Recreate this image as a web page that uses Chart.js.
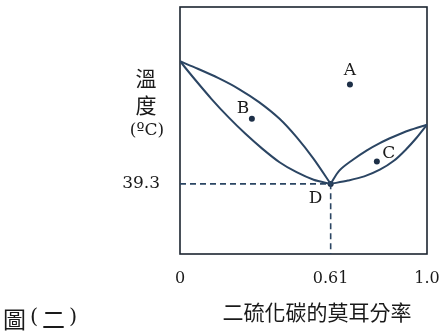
<!DOCTYPE html>
<html lang="zh-Hant">
  <head>
    <meta charset="UTF-8">
    <title>二硫化碳-丙酮 沸點圖</title>
    <script src="https://cdn.jsdelivr.net/npm/chart.js"></script>
    <style>
      body {
        margin: 0;
        background: #ffffff;
      }

      .chart-container {
        width: 447px;
        height: 336px;
      }
    </style>
  </head>
  <body>
    <div class="chart-container">
      <canvas id="phaseChart" width="447" height="336"></canvas>
    </div>
    <script>
      // x = mole fraction of CS2, y = temperature (ºC)
      const leftUpperX = [0, 0.072, 0.154, 0.237, 0.320, 0.403, 0.472, 0.541, 0.61];
      const leftUpperT = [54.0, 53.1, 52.0, 50.7, 49.1, 47.1, 44.9, 42.3, 39.3];
      const leftLowerX = [0, 0.058, 0.127, 0.196, 0.265, 0.334, 0.403, 0.472, 0.541, 0.61];
      const leftLowerT = [54.0, 51.9, 49.5, 47.3, 45.3, 43.5, 41.9, 40.7, 39.8, 39.3];
      const rightUpperX = [0.61, 0.645, 0.700, 0.755, 0.809, 0.864, 0.926, 1.0];
      const rightUpperT = [39.3, 40.9, 42.2, 43.3, 44.2, 44.95, 45.7, 46.4];
      const rightLowerX = [0.61, 0.680, 0.746, 0.809, 0.867, 0.914, 0.957, 1.0];
      const rightLowerT = [39.3, 39.7, 40.2, 41.0, 42.1, 43.4, 44.8, 46.4];

      // dashed guide to the azeotrope D
      const guideX = [0, 0.61, 0.61];
      const guideT = [39.3, 39.3, 30.9];

      // labelled points
      const pointNames = ['A', 'B', 'C', 'D'];
      const pointX = [0.688, 0.291, 0.797, 0.61];
      const pointT = [51.2, 47.1, 42.0, 39.3];

      // axis range and ticks
      const xMin = 0, xMax = 1.0;
      const tMin = 30.9, tMax = 60.5;
      const xTicks = [0, 0.61, 1.0];
      const xTickLabels = ['0', '0.61', '1.0'];
      const yTicks = [39.3];
      const yTickLabels = ['39.3'];

      const lineColor = '#2b4563';
      const serif = '"DejaVu Serif", "Liberation Serif", serif';
      const cjk = '"Noto Sans CJK TC", "Noto Sans CJK SC", sans-serif';

      function toPoints(xs, ys) {
        return xs.map((x, i) => ({ x: x, y: ys[i] }));
      }

      function curve(xs, ys) {
        return {
          data: toPoints(xs, ys),
          showLine: true,
          borderColor: lineColor,
          borderWidth: 2,
          pointRadius: 0,
          tension: 0.3,
          fill: false
        };
      }

      // Frame around the plot area (all four sides)
      const framePlugin = {
        id: 'frame',
        beforeDatasetsDraw(chart) {
          const a = chart.chartArea;
          const ctx = chart.ctx;
          ctx.save();
          ctx.strokeStyle = '#1c2530';
          ctx.lineWidth = 1.6;
          ctx.strokeRect(a.left, a.top, a.right - a.left, a.bottom - a.top);
          ctx.restore();
        }
      };

      // Text: point names, axis titles, figure caption
      const textPlugin = {
        id: 'texts',
        afterDraw(chart) {
          const ctx = chart.ctx;
          const xs = chart.scales.x;
          const ys = chart.scales.y;
          ctx.save();
          ctx.fillStyle = '#1a1a1a';
          ctx.textAlign = 'center';
          ctx.textBaseline = 'middle';

          // names next to the points
          const offsets = { A: [0, -14], B: [-9, -10], C: [12, -8], D: [-15, 15] };
          ctx.font = '17px ' + serif;
          pointNames.forEach((name, i) => {
            const px = xs.getPixelForValue(pointX[i]);
            const py = ys.getPixelForValue(pointT[i]);
            const off = offsets[name];
            ctx.fillText(name, px + off[0], py + off[1]);
          });

          // y axis title, stacked
          ctx.font = '21px ' + cjk;
          ctx.fillText('溫', 146, 78);
          ctx.fillText('度', 146, 105);
          ctx.font = '17px ' + serif;
          ctx.fillText('(ºC)', 147, 131);

          // x axis title
          ctx.font = '21px ' + cjk;
          ctx.fillText('二硫化碳的莫耳分率', 317, 312);

          // caption
          ctx.textAlign = 'left';
          ctx.font = '23px ' + cjk;
          ctx.fillText('圖', 3, 319);
          ctx.fillText('二', 42, 319);
          ctx.font = '21px ' + serif;
          ctx.fillText('(', 30, 318);
          ctx.fillText(')', 69, 318);
          ctx.restore();
        }
      };

      const ctx = document.getElementById('phaseChart').getContext('2d');
      const phaseChart = new Chart(ctx, {
        type: 'scatter',
        data: {
          datasets: [
            curve(leftUpperX, leftUpperT),
            curve(leftLowerX, leftLowerT),
            curve(rightUpperX, rightUpperT),
            curve(rightLowerX, rightLowerT),
            {
              data: toPoints(guideX, guideT),
              showLine: true,
              borderColor: lineColor,
              borderWidth: 1.6,
              borderDash: [6, 4],
              pointRadius: 0,
              tension: 0
            },
            {
              data: toPoints(pointX, pointT),
              showLine: false,
              pointRadius: 3,
              pointBackgroundColor: '#1d2f47',
              pointBorderWidth: 0
            }
          ]
        },
        options: {
          responsive: false,
          animation: false,
          layout: {
            padding: { left: 0, right: 20, top: 7, bottom: 0 }
          },
          plugins: {
            legend: { display: false },
            tooltip: { enabled: false }
          },
          scales: {
            x: {
              type: 'linear',
              min: xMin,
              max: xMax,
              afterBuildTicks: (scale) => {
                scale.ticks = xTicks.map(v => ({ value: v }));
              },
              afterFit: (scale) => {
                scale.height = 82;
                scale.paddingLeft = 0;
                scale.paddingRight = 0;
              },
              grid: { display: false },
              border: { display: false },
              ticks: {
                padding: 7,
                color: '#1a1a1a',
                font: { family: serif, size: 16 },
                maxRotation: 0,
                autoSkip: false,
                callback: (value) => {
                  const i = xTicks.indexOf(value);
                  return i >= 0 ? xTickLabels[i] : '';
                }
              }
            },
            y: {
              type: 'linear',
              min: tMin,
              max: tMax,
              afterBuildTicks: (scale) => {
                scale.ticks = yTicks.map(v => ({ value: v }));
              },
              afterFit: (scale) => {
                scale.width = 180;
                scale.paddingTop = 0;
                scale.paddingBottom = 0;
              },
              grid: { display: false },
              border: { display: false },
              ticks: {
                padding: 12,
                color: '#1a1a1a',
                font: { family: serif, size: 17 },
                callback: (value) => {
                  const i = yTicks.indexOf(value);
                  return i >= 0 ? yTickLabels[i] : '';
                }
              }
            }
          }
        },
        plugins: [framePlugin, textPlugin]
      });
    </script>
  </body>
</html>
